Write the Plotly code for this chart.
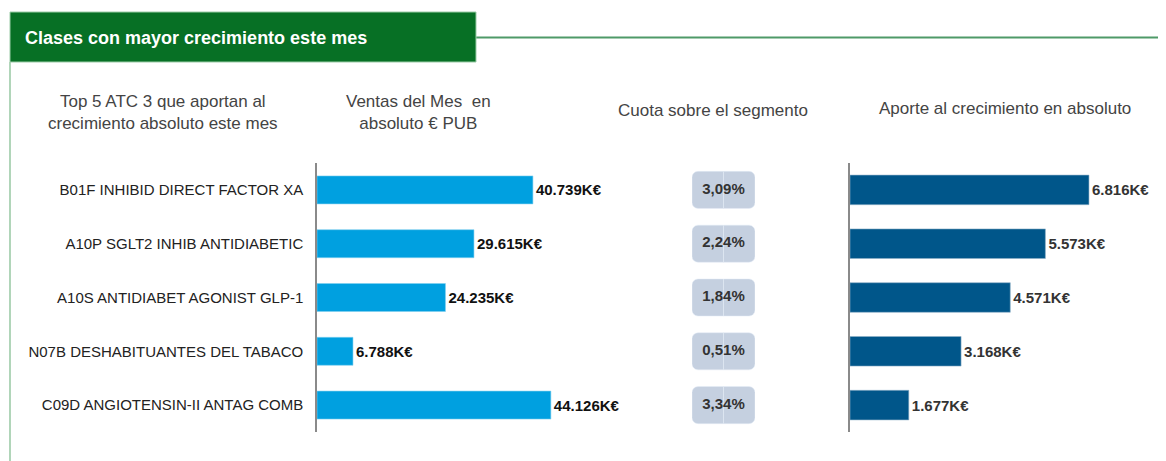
import plotly.graph_objects as go

# The page body adds an 8px margin, so the figure is drawn 8px smaller
# and every layout position is shifted by that offset.
OFF = 8
W, H = 1166 - OFF, 461 - OFF

categories = [
    "B01F INHIBID DIRECT FACTOR XA",
    "A10P SGLT2 INHIB ANTIDIABETIC",
    "A10S ANTIDIABET AGONIST GLP-1",
    "N07B DESHABITUANTES DEL TABACO",
    "C09D ANGIOTENSIN-II ANTAG COMB",
]
ventas_k = [40739, 29615, 24235, 6788, 44126]
cuota_pct = [3.09, 2.24, 1.84, 0.51, 3.34]
aporte_k = [6816, 5573, 4571, 3168, 1677]

title_text = "Clases con mayor crecimiento este mes"
col_headers = [
    "Top 5 ATC 3 que aportan al<br>crecimiento absoluto este mes",
    "Ventas del Mes  en<br>absoluto € PUB",
    "Cuota sobre el segmento",
    "Aporte al crecimiento en absoluto",
]

FONT = "Liberation Sans, Arial, sans-serif"
GREEN = "#077025"
LIGHT_BLUE = "#00a0e0"
DARK_BLUE = "#00568a"
PILL = "#c5d0e0"


def px(x):
    return (x - OFF) / W


def py(y):
    return 1 - (y - OFF) / H


ydom = [py(432), py(163)]

fig = go.Figure()

# Panel 1: ventas
fig.add_trace(go.Bar(
    x=ventas_k, y=categories, orientation="h",
    marker=dict(color=LIGHT_BLUE, line=dict(color="#7fd0f0", width=0.6)),
    width=0.52,
    texttemplate="%{x:,.0f}K€", textposition="outside",
    textfont=dict(family=FONT, size=15, color="#111111", weight="bold"),
    cliponaxis=False, xaxis="x", yaxis="y", hoverinfo="skip",
))

# Panel 2: cuota pills (two half bars so both ends get rounded)
fig.add_trace(go.Bar(
    x=[1] * len(categories), y=categories, orientation="h",
    marker=dict(color=PILL, cornerradius=6), width=0.69,
    xaxis="x2", yaxis="y2", hoverinfo="skip",
))
fig.add_trace(go.Bar(
    x=[-1] * len(categories), y=categories, orientation="h",
    marker=dict(color=PILL, cornerradius=6), width=0.69,
    xaxis="x2", yaxis="y2", hoverinfo="skip",
))
fig.add_trace(go.Scatter(
    x=[0] * len(categories), y=categories, mode="text",
    text=[f"{v:.2f}".replace(".", ",") + "%" for v in cuota_pct],
    textfont=dict(family=FONT, size=15, color="#333333", weight="bold"),
    textposition="middle center",
    xaxis="x2", yaxis="y2", hoverinfo="skip",
))

# Panel 3: aporte
fig.add_trace(go.Bar(
    x=aporte_k, y=categories, orientation="h",
    marker=dict(color=DARK_BLUE, line=dict(color="#8fb0c8", width=0.6)),
    width=0.55,
    texttemplate="%{x:,.0f}K€", textposition="outside",
    textfont=dict(family=FONT, size=15, color="#333333", weight="bold"),
    cliponaxis=False, xaxis="x3", yaxis="y3", hoverinfo="skip",
))

yaxis_common = dict(
    type="category", categoryorder="array", categoryarray=categories,
    autorange="reversed", domain=ydom, showgrid=False, zeroline=False,
    fixedrange=True,
)

fig.update_layout(
    width=W, height=H,
    margin=dict(l=0, r=0, t=0, b=0),
    paper_bgcolor="white", plot_bgcolor="white",
    showlegend=False, barmode="overlay",
    separators=",.",
    font=dict(family=FONT, color="#333333"),
    xaxis=dict(domain=[px(317), px(690)], range=[0, 373 / 0.0053],
               visible=False, fixedrange=True),
    yaxis=dict(**yaxis_common, anchor="x", showline=True, linecolor="#8a8a8a",
               linewidth=1.5, ticks="", ticklabelstandoff=9,
               tickfont=dict(family=FONT, size=15, color="#222222")),
    xaxis2=dict(domain=[px(692), px(755)], range=[-1, 1], visible=False,
                fixedrange=True),
    yaxis2=dict(**yaxis_common, anchor="x2", visible=False),
    xaxis3=dict(domain=[px(850), px(1160)], range=[0, 310 / 0.03506],
                visible=False, fixedrange=True),
    yaxis3=dict(**yaxis_common, anchor="x3", showline=True, linecolor="#8a8a8a",
                linewidth=1.5, showticklabels=False, ticks=""),
)

# Frame: green header box, line to right, left vertical line
fig.add_shape(type="line", xref="paper", yref="paper",
              x0=px(476), x1=1, y0=py(37.5), y1=py(37.5),
              line=dict(color="#4e9a68", width=2), layer="below")
fig.add_shape(type="line", xref="paper", yref="paper",
              x0=px(10), x1=px(10), y0=py(62), y1=0,
              line=dict(color="#7cb98a", width=1.2), layer="below")
fig.add_shape(type="rect", xref="paper", yref="paper",
              x0=px(10), x1=px(476), y0=py(62), y1=py(12),
              fillcolor=GREEN, line=dict(color="#9ccca8", width=1), layer="below")

fig.add_annotation(xref="paper", yref="paper", x=px(23), y=py(38),
                   xanchor="left", yanchor="middle", showarrow=False,
                   text=title_text,
                   font=dict(family=FONT, size=18, color="white", weight="bold"))

header_pos = [(163, 112), (418, 112), (713, 110), (1005, 108)]
for txt, (hx, hy) in zip(col_headers, header_pos):
    fig.add_annotation(xref="paper", yref="paper", x=px(hx), y=py(hy),
                       xanchor="center", yanchor="middle", showarrow=False,
                       text=txt, align="center",
                       font=dict(family=FONT, size=17, color="#444444"))

fig.write_html("out.html")
